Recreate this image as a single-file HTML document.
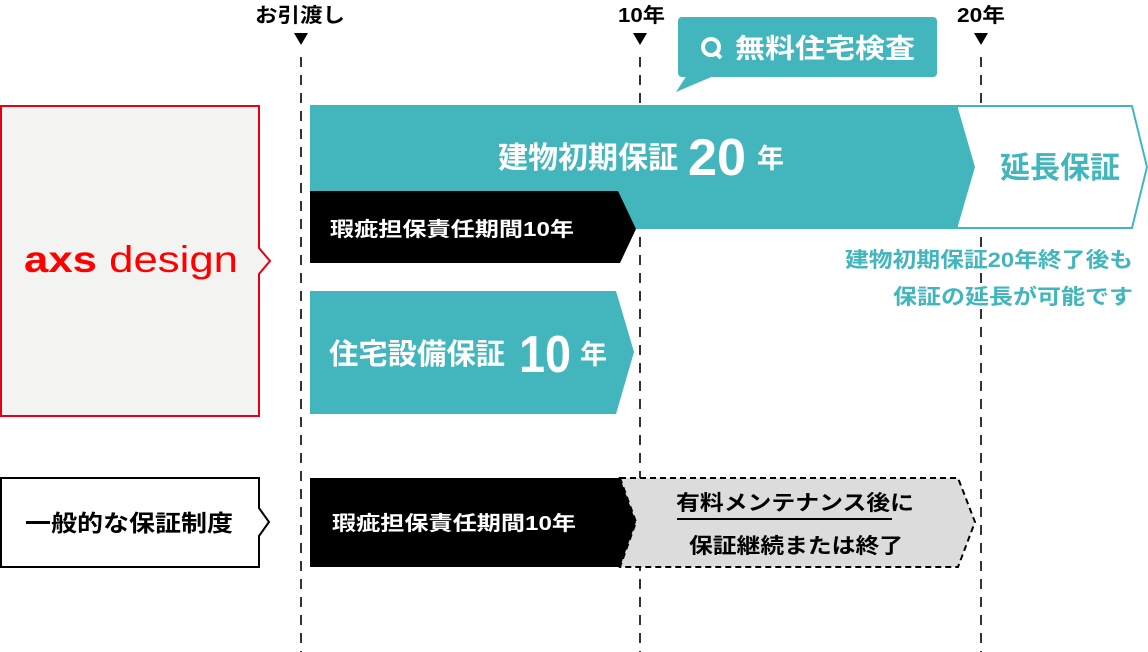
<!DOCTYPE html>
<html><head><meta charset="utf-8"><style>
html,body{margin:0;padding:0;background:#fff;}
svg{display:block;font-family:"Liberation Sans","Noto Sans CJK JP",sans-serif;}
</style></head><body>
<svg width="1148" height="652" viewBox="0 0 1148 652" xmlns="http://www.w3.org/2000/svg">
<g stroke="#333" stroke-width="2" stroke-dasharray="10,8">
<line x1="301" y1="57" x2="301" y2="652"/>
<line x1="640" y1="57" x2="640" y2="652"/>
<line x1="981" y1="57" x2="981" y2="652"/>
</g>
<g fill="#000">
<polygon points="294,33 308,33 301,45"/>
<polygon points="633,33 647,33 640,45"/>
<polygon points="974,33 988,33 981,45"/>
</g>
<g font-size="20" font-weight="bold" fill="#000">
<text x="255" y="22" textLength="90" lengthAdjust="spacingAndGlyphs">お引渡し</text>
<text x="618" y="22" textLength="47" lengthAdjust="spacingAndGlyphs">10年</text>
<text x="957" y="22" textLength="48" lengthAdjust="spacingAndGlyphs">20年</text>
</g>
<rect x="678" y="17" width="259" height="60" rx="4" fill="#42b6bc"/>
<polygon points="687,75 716,75 676,92" fill="#42b6bc"/>
<circle cx="711" cy="47" r="8" fill="none" stroke="#fff" stroke-width="4"/>
<line x1="716" y1="53" x2="721" y2="58" stroke="#fff" stroke-width="4"/>
<text x="735" y="58" font-size="27" font-weight="bold" fill="#fff" textLength="180" lengthAdjust="spacingAndGlyphs">無料住宅検査</text>
<polygon points="1,106 259,106 259,248 270,261 259,274 259,416 1,416" fill="#f3f3f1" stroke="#e60012" stroke-width="2"/>
<text x="24" y="272" font-size="37" fill="#ff0000" textLength="214" lengthAdjust="spacingAndGlyphs"><tspan font-weight="bold">axs</tspan> design</text>
<polygon points="957,106 1132,106 1147,167 1132,228 957,228" fill="#fff" stroke="#42b6bc" stroke-width="2"/>
<text x="1000" y="178" font-size="30" font-weight="bold" fill="#42b6bc" textLength="120" lengthAdjust="spacingAndGlyphs">延長保証</text>
<polygon points="310,105 957,105 975,167 957,229 310,229" fill="#42b6bc"/>
<polygon points="310,191 618,191 636,229 620,263 310,263" fill="#000"/>
<text x="498" y="168" font-size="30" font-weight="bold" fill="#fff" textLength="180" lengthAdjust="spacingAndGlyphs">建物初期保証</text>
<text x="688" y="175" font-size="52" font-weight="bold" fill="#fff" textLength="58" lengthAdjust="spacingAndGlyphs">20</text>
<text x="757" y="168" font-size="27" font-weight="bold" fill="#fff">年</text>
<text x="330" y="236" font-size="20" font-weight="bold" fill="#fff" textLength="244" lengthAdjust="spacingAndGlyphs">瑕疵担保責任期間10年</text>
<g font-size="21" font-weight="bold" fill="#42b6bc">
<text x="845" y="267" textLength="288" lengthAdjust="spacingAndGlyphs">建物初期保証20年終了後も</text>
<text x="893" y="304" textLength="240" lengthAdjust="spacingAndGlyphs">保証の延長が可能です</text>
</g>
<polygon points="310,291 616,291 634,352 616,414 310,414" fill="#42b6bc"/>
<text x="329" y="364" font-size="29" font-weight="bold" fill="#fff" textLength="176" lengthAdjust="spacingAndGlyphs">住宅設備保証</text>
<text x="519" y="372" font-size="52" font-weight="bold" fill="#fff" textLength="52" lengthAdjust="spacingAndGlyphs">10</text>
<text x="580" y="364" font-size="27" font-weight="bold" fill="#fff">年</text>
<polygon points="1,478 259,478 259,508 269,522 259,536 259,567 1,567" fill="#fff" stroke="#000" stroke-width="2"/>
<text x="25" y="531" font-size="23" font-weight="bold" fill="#000" textLength="208" lengthAdjust="spacingAndGlyphs">一般的な保証制度</text>
<polygon points="620,478 958,478 975,522 958,567 620,567 636,522" fill="#dcdcdc" stroke="#000" stroke-width="2" stroke-dasharray="6,4"/>
<polygon points="310,478 620,478 636,522 620,567 310,567" fill="#000"/>
<text x="332" y="530" font-size="20" font-weight="bold" fill="#fff" textLength="244" lengthAdjust="spacingAndGlyphs">瑕疵担保責任期間10年</text>
<g font-size="21" font-weight="bold" fill="#000">
<text x="676" y="510" textLength="238" lengthAdjust="spacingAndGlyphs">有料メンテナンス後に</text>
<text x="689" y="553" textLength="214" lengthAdjust="spacingAndGlyphs">保証継続または終了</text>
</g>
<line x1="677" y1="519" x2="892" y2="519" stroke="#000" stroke-width="2"/>
</svg>
</body></html>
